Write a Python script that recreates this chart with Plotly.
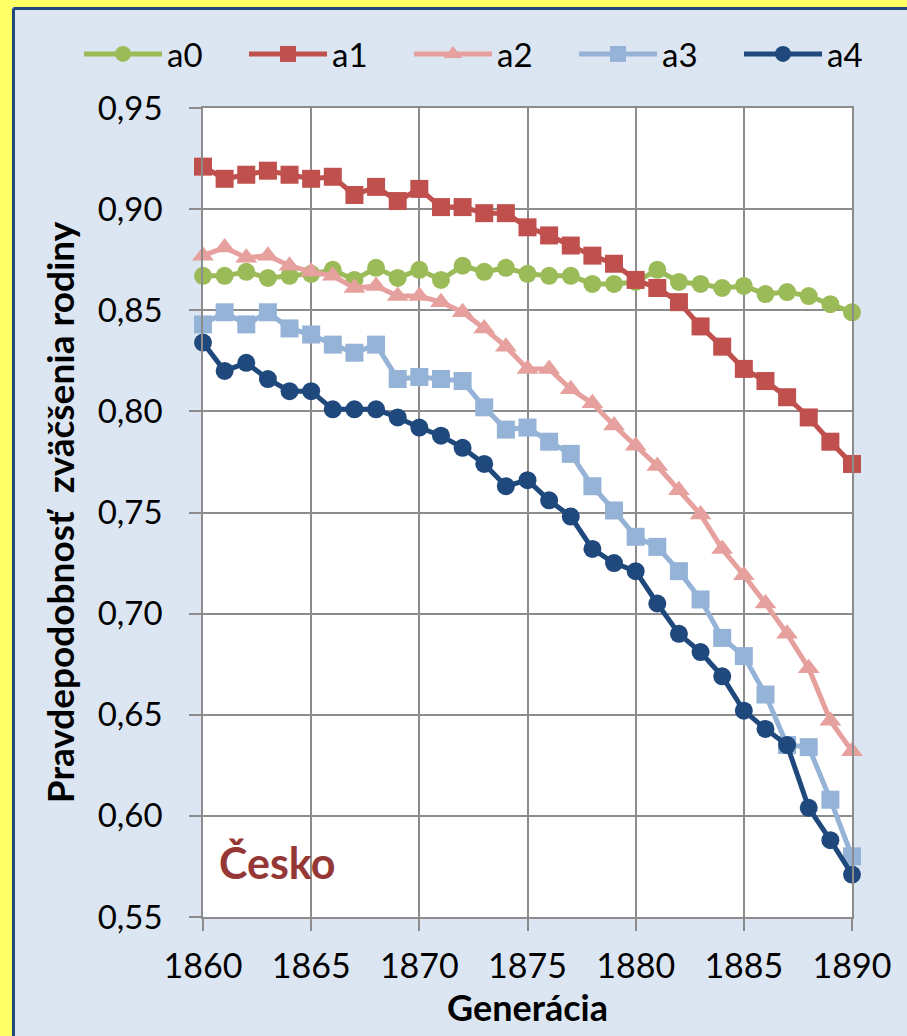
import plotly.graph_objects as go

years = list(range(1860, 1891))

a0 = [0.867, 0.867, 0.869, 0.866, 0.867, 0.868, 0.870, 0.865, 0.871, 0.866,
      0.870, 0.865, 0.872, 0.869, 0.871, 0.868, 0.867, 0.867, 0.863, 0.863,
      0.864, 0.870, 0.864, 0.863, 0.861, 0.862, 0.858, 0.859, 0.857, 0.853, 0.849]
a1 = [0.921, 0.915, 0.917, 0.919, 0.917, 0.915, 0.916, 0.907, 0.911, 0.904,
      0.910, 0.901, 0.901, 0.898, 0.898, 0.891, 0.887, 0.882, 0.877, 0.873,
      0.865, 0.861, 0.854, 0.842, 0.832, 0.821, 0.815, 0.807, 0.797, 0.785, 0.774]
a2 = [0.877, 0.881, 0.876, 0.877, 0.872, 0.869, 0.867, 0.861, 0.862, 0.857,
      0.857, 0.854, 0.849, 0.841, 0.832, 0.821, 0.821, 0.811, 0.804, 0.793,
      0.783, 0.773, 0.761, 0.749, 0.732, 0.719, 0.705, 0.690, 0.673, 0.647, 0.632]
a3 = [0.843, 0.849, 0.843, 0.849, 0.841, 0.838, 0.833, 0.829, 0.833, 0.816,
      0.817, 0.816, 0.815, 0.802, 0.791, 0.792, 0.785, 0.779, 0.763, 0.751,
      0.738, 0.733, 0.721, 0.707, 0.688, 0.679, 0.660, 0.635, 0.634, 0.608, 0.580]
a4 = [0.834, 0.820, 0.824, 0.816, 0.810, 0.810, 0.801, 0.801, 0.801, 0.797,
      0.792, 0.788, 0.782, 0.774, 0.763, 0.766, 0.756, 0.748, 0.732, 0.725,
      0.721, 0.705, 0.690, 0.681, 0.669, 0.652, 0.643, 0.635, 0.604, 0.588, 0.571]

series_names = ["a0", "a1", "a2", "a3", "a4"]
series_values = [a0, a1, a2, a3, a4]
colors = ["#9BBB59", "#C0504D", "#E6A09E", "#95B3D7", "#1F497D"]
symbols = ["circle", "square", "triangle-up", "square", "circle"]
msizes = [18, 18, 19, 18, 18]

y_ticks = [0.55, 0.60, 0.65, 0.70, 0.75, 0.80, 0.85, 0.90, 0.95]
x_ticks = [1860, 1865, 1870, 1875, 1880, 1885, 1890]

W, H = 907, 1036
L, R, T, B = 203, 55, 108, 119
PW, PH = W - L - R, H - T - B

def px_x(px):
    return (px - L) / PW

def px_y(py):
    return 1 - (py - T) / PH

fig = go.Figure()
for name, vals, c, s, ms in zip(series_names, series_values, colors, symbols, msizes):
    fig.add_trace(go.Scatter(
        x=years, y=vals, name=name, mode="lines+markers",
        line=dict(color=c, width=5),
        marker=dict(symbol=s, size=ms, color=c),
        cliponaxis=False,
    ))

FONT = "Lato"
grid = "#8C8C8C"

fig.update_layout(
    width=W, height=H,
    margin=dict(l=L, r=R, t=T, b=B, pad=0),
    paper_bgcolor="#DCE6F2",
    plot_bgcolor="#FFFFFF",
    separators=",.",
    font=dict(family=FONT, color="#000000", size=34),
    showlegend=True,
    legend=dict(
        orientation="h", x=px_x(79), y=px_y(54), xanchor="left", yanchor="middle",
        font=dict(family=FONT, size=33, color="#000000"),
        bgcolor="rgba(0,0,0,0)", itemwidth=78,
        entrywidth=72, entrywidthmode="pixels",
        itemclick=False, traceorder="normal",
    ),
    xaxis=dict(
        range=[1860, 1890], tickvals=x_ticks, ticktext=[str(v) for v in x_ticks],
        showgrid=True, gridcolor=grid, gridwidth=1.5,
        showline=True, linecolor=grid, linewidth=1.5, mirror=True,
        ticks="outside", ticklen=12, tickcolor=grid, tickwidth=1.5,
        tickfont=dict(family=FONT, size=34, color="#000000"),
        ticklabelstandoff=6,
        zeroline=False,
        title=dict(text="<b>Generácia</b>", font=dict(family=FONT, size=36, color="#000000"), standoff=10),
    ),
    yaxis=dict(
        range=[0.55, 0.95], tickvals=y_ticks, tickformat=".2f",
        showgrid=True, gridcolor=grid, gridwidth=1.5,
        showline=True, linecolor=grid, linewidth=1.5, mirror=True,
        ticks="outside", ticklen=12, tickcolor=grid, tickwidth=1.5,
        tickfont=dict(family=FONT, size=33, color="#000000"),
        ticklabelstandoff=20,
        zeroline=False,
        title=dict(text="<b>Pravdepodobnosť  zväčšenia rodiny</b>", font=dict(family=FONT, size=37, color="#000000"), standoff=12),
    ),
    shapes=[
        dict(type="rect", xref="paper", yref="paper", x0=px_x(0), x1=px_x(12), y0=px_y(0), y1=px_y(H),
             fillcolor="#FFFF66", line=dict(width=0), layer="above"),
        dict(type="rect", xref="paper", yref="paper", x0=px_x(0), x1=px_x(W), y0=px_y(0), y1=px_y(7),
             fillcolor="#FFFF66", line=dict(width=0), layer="above"),
        dict(type="line", xref="paper", yref="paper", x0=px_x(13.5), x1=px_x(13.5), y0=px_y(8.5), y1=px_y(H),
             line=dict(color="#1F497D", width=3), layer="above"),
        dict(type="line", xref="paper", yref="paper", x0=px_x(13.5), x1=px_x(W), y0=px_y(8.5), y1=px_y(8.5),
             line=dict(color="#1F497D", width=3), layer="above"),
    ],
    annotations=[
        dict(text="<b>Česko</b>", x=1860.65, y=0.577, xref="x", yref="y", xanchor="left", yanchor="middle",
             showarrow=False, font=dict(family=FONT, size=43, color="#953735")),
    ],
)

fig.write_html("out.html", config={"displayModeBar": False},
               post_script="document.body.style.margin='0px';")
